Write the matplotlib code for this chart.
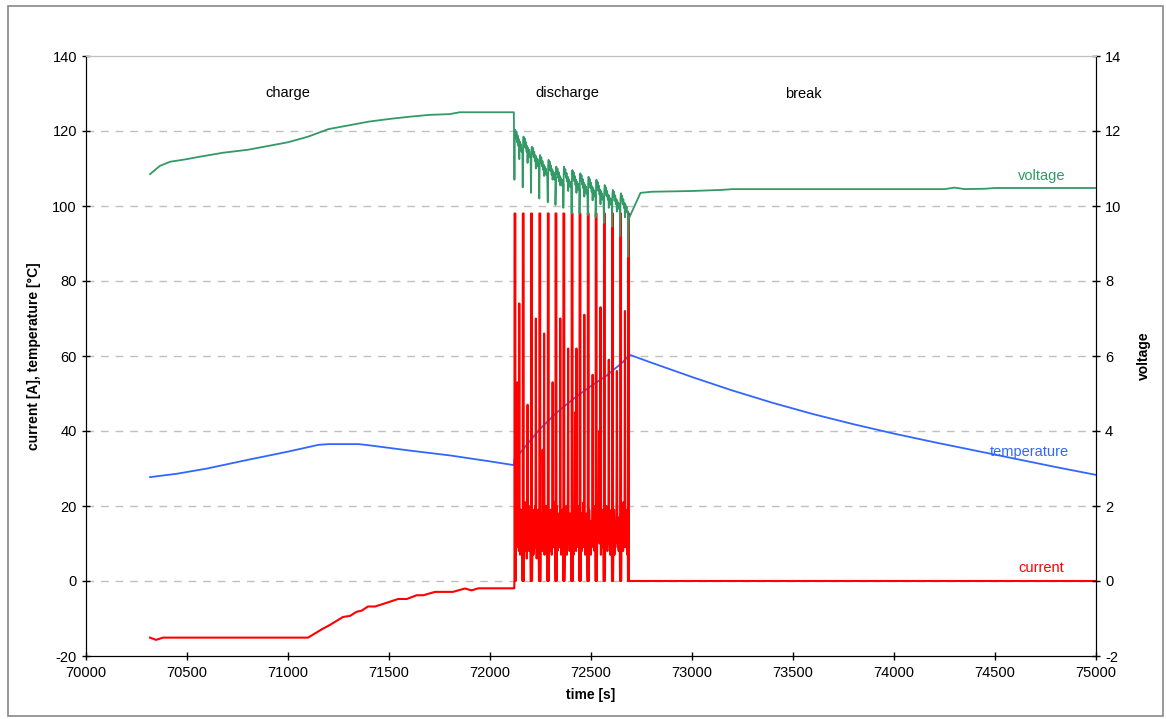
import numpy as np
import matplotlib.pyplot as plt
from matplotlib.patches import Rectangle

plt.rcParams['font.family'] = ['Liberation Sans', 'DejaVu Sans']
plt.rcParams['font.size'] = 10
plt.rcParams['axes.unicode_minus'] = False

# charge phase
charge_t = [70317, 70347, 70381, 71099, 71167, 71208, 71272, 71307, 71340, 71365,
            71396, 71431, 71489, 71545, 71588, 71637, 71670, 71728, 71817, 71876,
            71909, 71942, 72120]
charge_i = [-15.1, -15.7, -15.1, -15.1, -12.9, -11.7, -9.6, -9.3, -8.2, -7.9,
            -6.8, -6.8, -5.8, -4.8, -4.8, -3.8, -3.8, -2.9, -2.9, -2.0,
            -2.5, -1.95, -1.95]

volt_charge_t = [70317, 70366, 70416, 70500, 70548, 70678, 70802, 70900, 71000, 71100,
                 71200, 71300, 71400, 71500, 71600, 71700, 71800, 71850, 72118]
volt_charge_v = [10.85, 11.07, 11.18, 11.25, 11.30, 11.42, 11.50, 11.60, 11.70, 11.85,
                 12.05, 12.15, 12.25, 12.32, 12.38, 12.43, 12.45, 12.50, 12.50]

temp_t = [70317, 70450, 70600, 70800, 71000, 71150, 71200, 71350, 71400, 71600,
          71800, 72000, 72118, 72121, 72132, 72248, 72330, 72411, 72495, 72578,
          72658, 72683, 72693, 72800, 73000, 73200, 73400, 73600, 73800, 74000,
          74200, 74400, 74600, 74800, 75000]
temp_c = [27.7, 28.6, 30.0, 32.3, 34.5, 36.3, 36.5, 36.5, 36.2, 34.8,
          33.5, 31.9, 30.9, 32.5, 33.1, 40.6, 44.9, 48.5, 51.8, 54.8,
          58.4, 59.8, 60.3, 58.2, 54.4, 50.8, 47.5, 44.5, 41.8, 39.3,
          37.0, 34.8, 32.6, 30.4, 28.3]

# discharge phase: pulse start times and per-cycle samples
pulse_t = [72121, 72162, 72203, 72244, 72286, 72324, 72363, 72404, 72443, 72484,
           72523, 72564, 72604, 72644, 72683]

cur_dt = [0, 0.5, 4.5, 5, 7, 10, 12, 15, 17, 20, 22, 24, 26, 28, 31, 33, 36, 38, 39.5]
cur_cycles = [
    [0, 98, 98, 0, 14, 20, 9, 53, 12, 18, 8, 74, 16, 7, 19, 11, 17, 9, 0],
    [0, 98, 98, 0, 17, 8, 21, 10, 15, 6, 19, 47, 13, 19, 8, 14, 20, 9, 0],
    [0, 98, 98, 0, 12, 19, 7, 16, 10, 20, 9, 70, 15, 6, 18, 12, 19, 8, 0],
    [0, 98, 98, 0, 18, 9, 14, 8, 35, 11, 17, 66, 7, 17, 10, 20, 8, 16, 0],
    [0, 98, 98, 0, 10, 17, 8, 19, 12, 7, 18, 53, 16, 9, 21, 11, 14, 8, 0],
    [0, 98, 98, 0, 20, 8, 15, 11, 18, 9, 16, 70, 12, 7, 16, 10, 19, 9, 0],
    [0, 98, 98, 0, 9, 16, 12, 20, 7, 14, 19, 62, 10, 18, 8, 15, 11, 18, 0],
    [0, 98, 98, 0, 15, 7, 19, 10, 45, 12, 8, 62, 17, 11, 20, 9, 16, 10, 0],
    [0, 98, 98, 0, 11, 18, 8, 14, 9, 21, 12, 71, 13, 7, 16, 10, 18, 9, 0],
    [0, 98, 98, 0, 19, 10, 16, 7, 13, 9, 18, 55, 17, 11, 20, 8, 14, 19, 0],
    [0, 98, 98, 0, 8, 15, 11, 19, 40, 10, 17, 73, 7, 16, 12, 19, 9, 15, 0],
    [0, 98, 98, 0, 16, 9, 20, 12, 8, 17, 10, 59, 11, 14, 7, 18, 10, 19, 0],
    [0, 98, 98, 0, 12, 19, 7, 15, 10, 13, 20, 56, 20, 9, 16, 8, 17, 11, 0],
    [0, 98, 98, 0, 18, 10, 14, 8, 21, 11, 16, 72, 9, 15, 12, 19, 7, 17, 0],
    [0, 98, 98, 0],
]

volt_dt = [0, 2, 4, 7, 10, 13, 16, 19, 22, 24, 26, 29, 32, 35, 39]
volt_cycles = [
    [10.70, 11.88, 12.03, 11.80, 11.98, 11.70, 11.88, 11.60, 11.78, 11.25, 11.72, 11.50, 11.65, 11.45, 11.52],
    [10.50, 11.70, 11.85, 11.62, 11.80, 11.55, 11.70, 11.45, 11.60, 11.15, 11.55, 11.35, 11.50, 11.30, 11.35],
    [10.35, 11.45, 11.58, 11.38, 11.55, 11.30, 11.45, 11.20, 11.35, 11.00, 11.30, 11.10, 11.25, 11.05, 11.10],
    [10.20, 11.22, 11.36, 11.15, 11.30, 11.06, 11.20, 10.96, 11.10, 10.80, 11.06, 10.86, 11.00, 10.82, 10.88],
    [10.10, 11.08, 11.23, 11.02, 11.18, 10.93, 11.08, 10.83, 10.98, 10.70, 10.93, 10.73, 10.88, 10.70, 10.75],
    [10.03, 10.90, 11.05, 10.85, 11.00, 10.75, 10.90, 10.65, 10.80, 10.55, 10.75, 10.58, 10.70, 10.52, 10.58],
    [9.95, 10.90, 11.05, 10.85, 10.98, 10.75, 10.88, 10.65, 10.78, 10.40, 10.72, 10.55, 10.66, 10.50, 10.55],
    [9.80, 10.82, 10.96, 10.76, 10.90, 10.66, 10.80, 10.56, 10.70, 10.35, 10.65, 10.47, 10.60, 10.42, 10.46],
    [9.80, 10.72, 10.87, 10.67, 10.82, 10.57, 10.72, 10.47, 10.62, 10.25, 10.57, 10.38, 10.52, 10.33, 10.38],
    [9.76, 10.63, 10.78, 10.58, 10.72, 10.48, 10.62, 10.38, 10.52, 10.15, 10.48, 10.30, 10.42, 10.25, 10.30],
    [9.70, 10.55, 10.70, 10.50, 10.64, 10.40, 10.54, 10.30, 10.44, 10.05, 10.40, 10.22, 10.34, 10.17, 10.22],
    [9.55, 10.42, 10.56, 10.36, 10.50, 10.27, 10.40, 10.17, 10.30, 9.95, 10.26, 10.08, 10.20, 10.03, 10.08],
    [9.45, 10.30, 10.43, 10.24, 10.38, 10.14, 10.28, 10.05, 10.18, 9.85, 10.14, 9.96, 10.08, 9.92, 9.96],
    [9.20, 10.20, 10.34, 10.15, 10.28, 10.05, 10.18, 9.95, 10.08, 9.70, 10.04, 9.86, 9.98, 9.82, 9.86],
    [8.65],
]

# break phase
break_t = [72690, 75000]
break_i = [0, 0]
volt_break_t = [72686, 72745, 72800, 73000, 73150, 73200, 74250, 74300, 74350,
                74450, 74500, 75000]
volt_break_v = [9.65, 10.35, 10.38, 10.40, 10.43, 10.45, 10.45, 10.49, 10.45,
                10.46, 10.48, 10.48]

# assemble series
cur_t, cur_i = list(charge_t), list(charge_i)
for p, vals in zip(pulse_t, cur_cycles):
    cur_t += [p + d for d in cur_dt[:len(vals)]]
    cur_i += vals
cur_t += break_t
cur_i += break_i

v_t, v_v = list(volt_charge_t), list(volt_charge_v)
for p, vals in zip(pulse_t, volt_cycles):
    v_t += [p + d for d in volt_dt[:len(vals)]]
    v_v += vals
v_t += volt_break_t
v_v += volt_break_v

green = '#339966'
blue = '#3366FF'
red = '#FF0000'

fig = plt.figure(figsize=(11.66, 7.19), dpi=100)
fig.patches.append(Rectangle((8 / 1166, 3 / 719), 1155 / 1166, 710 / 719,
                             transform=fig.transFigure, fill=False,
                             edgecolor='#888888', linewidth=1.2))
ax1 = fig.add_axes([86 / 1166, 1 - 656 / 719, 1010 / 1166, 600 / 719])
ax2 = ax1.twinx()

ax1.plot(temp_t, temp_c, color=blue, lw=1.3)
ax1.plot(cur_t, cur_i, color=red, lw=1.5)
ax2.plot(v_t, v_v, color=green, lw=1.3)

ax1.set_xlim(70000, 75000)
ax1.set_ylim(-20, 140)
ax2.set_ylim(-2, 14)
ax1.set_xticks(np.arange(70000, 75001, 500))
ax1.set_yticks(np.arange(-20, 141, 20))
ax2.set_yticks(np.arange(-2, 15, 2))

for y in range(0, 121, 20):
    ax1.axhline(y, color='#C0C0C0', lw=1, ls=(0, (5.5, 5)), zorder=0)

for ax in (ax1, ax2):
    ax.tick_params(direction='inout', length=6, width=1, labelsize=10.5, colors='black')
    ax.spines['top'].set_color('#C0C0C0')
    for s in ('left', 'right', 'bottom'):
        ax.spines[s].set_color('black')
ax1.tick_params(axis='x', pad=4)

ax1.set_xlabel('time [s]', fontweight='bold', labelpad=6)
ax1.set_ylabel('current [A], temperature [°C]', fontweight='bold', labelpad=8)
ax2.set_ylabel('voltage', fontweight='bold', labelpad=11)

ax1.text(71000, 130, 'charge', ha='center', va='center', fontsize=10.5)
ax1.text(72385, 130, 'discharge', ha='center', va='center', fontsize=10.5)
ax1.text(73550, 130, 'break', ha='center', va='center', fontsize=10.5)
ax1.text(74730, 108, 'voltage', color=green, ha='center', va='center', fontsize=10.5)
ax1.text(74670, 34.5, 'temperature', color=blue, ha='center', va='center', fontsize=10.5)
ax1.text(74730, 3.5, 'current', color=red, ha='center', va='center', fontsize=10.5)

fig.savefig('out.png', dpi=100)
